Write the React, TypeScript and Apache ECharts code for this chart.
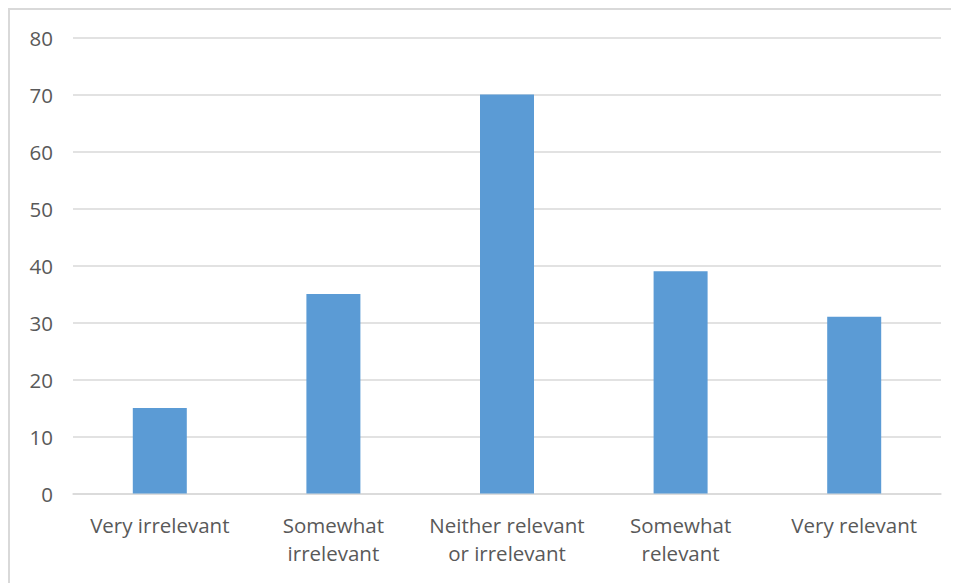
import React, { useEffect, useRef } from "react";
import * as echarts from "echarts";

const categories = [
  "Very irrelevant",
  "Somewhat\nirrelevant",
  "Neither relevant\nor irrelevant",
  "Somewhat\nrelevant",
  "Very relevant",
];
const values = [15, 35, 70, 39, 31];
const yTicks = { min: 0, max: 80, interval: 10 };

export default function App() {
  const ref = useRef<HTMLDivElement>(null);
  useEffect(() => {
    if (!ref.current) return;
    const chart = echarts.init(ref.current, undefined, { renderer: "svg" });
    const font = "'Open Sans', sans-serif";
    chart.setOption({
      animation: false,
      backgroundColor: "#ffffff",
      grid: { left: 65, right: 18, top: 29.5, bottom: 89.5, containLabel: false },
      xAxis: {
        type: "category",
        data: categories,
        axisLine: { show: true, lineStyle: { color: "#d9d9d9", width: 1.5 } },
        axisTick: { show: false },
        axisLabel: {
          color: "#595959",
          fontFamily: font,
          fontSize: 20.5,
          lineHeight: 28,
          margin: 17,
          interval: 0,
        },
      },
      yAxis: {
        type: "value",
        min: yTicks.min,
        max: yTicks.max,
        interval: yTicks.interval,
        axisLine: { show: false },
        axisTick: { show: false },
        splitLine: { lineStyle: { color: "#d9d9d9", width: 1.5 } },
        axisLabel: {
          color: "#595959",
          fontFamily: font,
          fontSize: 20.5,
          margin: 20,
        },
      },
      series: [
        {
          type: "bar",
          data: values,
          barWidth: 54,
          itemStyle: { color: "#5b9bd5" },
        },
      ],
      graphic: [
        {
          type: "line",
          shape: { x1: 0, y1: 1, x2: 951, y2: 1 },
          style: { stroke: "#d9d9d9", lineWidth: 2 },
        },
        {
          type: "line",
          shape: { x1: 1, y1: 0, x2: 1, y2: 575 },
          style: { stroke: "#d9d9d9", lineWidth: 2 },
        },
      ],
    });
    return () => chart.dispose();
  }, []);
  return <div ref={ref} style={{ width: 951, height: 575 }} />;
}
